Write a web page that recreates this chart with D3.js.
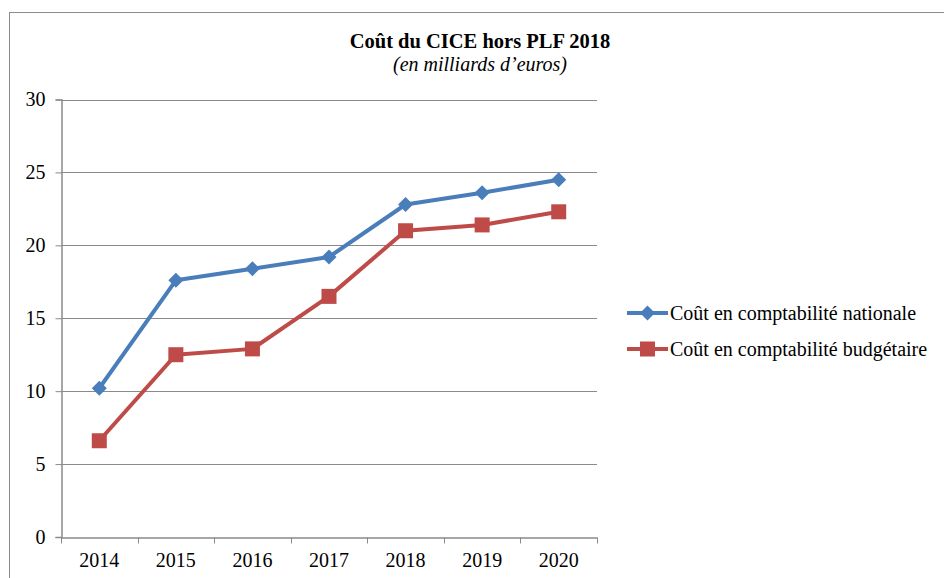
<!DOCTYPE html>
<html>
<head>
<meta charset="utf-8">
<script src="https://cdn.jsdelivr.net/npm/d3@7"></script>
<style>
  html, body { margin: 0; padding: 0; background: #fff; }
</style>
</head>
<body>
<div id="chart"></div>
<script>
const years = ['2014', '2015', '2016', '2017', '2018', '2019', '2020'];
const coutNational = [10.2, 17.6, 18.4, 19.2, 22.8, 23.6, 24.5];
const coutBudgetaire = [6.6, 12.5, 12.9, 16.5, 21.0, 21.4, 22.3];
const yTicks = [0, 5, 10, 15, 20, 25, 30];
const seriesNames = ['Coût en comptabilité nationale', 'Coût en comptabilité budgétaire'];

const FONT = "'Liberation Serif', 'Times New Roman', Times, 'DejaVu Serif', serif";
const width = 944, height = 578;
const plot = { left: 61, right: 597, top: 99.5, bottom: 537 };

const svg = d3.select('#chart').append('svg')
  .attr('width', width)
  .attr('height', height)
  .attr('font-family', FONT);

// chart frame
svg.append('rect')
  .attr('x', 9.5).attr('y', 12.5)
  .attr('width', 1000).attr('height', 600)
  .attr('fill', 'none')
  .attr('stroke', '#8c8c8c')
  .attr('stroke-width', 1);

const x = d3.scaleBand().domain(years).range([plot.left, plot.right]);
const y = d3.scaleLinear().domain([0, 30]).range([plot.bottom, plot.top]);

// gridlines
svg.append('g')
  .selectAll('line')
  .data(yTicks.filter(t => t > 0))
  .enter()
  .append('line')
  .attr('x1', plot.left).attr('x2', plot.right)
  .attr('y1', d => Math.round(y(d)) + 0.5).attr('y2', d => Math.round(y(d)) + 0.5)
  .attr('stroke', '#8a8a8a').attr('stroke-width', 1);

// y axis
const yAxis = svg.append('g')
  .attr('transform', `translate(${plot.left + 0.5},0)`)
  .call(d3.axisLeft(y).tickValues(yTicks).tickSize(6).tickPadding(10))
  .attr('font-family', FONT).attr('font-size', 20);
yAxis.select('.domain').attr('stroke', '#8a8a8a').attr('stroke-width', 1.5);
yAxis.selectAll('.tick line').attr('stroke', '#8a8a8a');

// x axis
const xAxis = svg.append('g')
  .attr('transform', `translate(0,${plot.bottom + 0.5})`)
  .call(d3.axisBottom(x).tickSize(0).tickPadding(15))
  .attr('font-family', FONT).attr('font-size', 20);
xAxis.select('.domain').attr('stroke', '#8a8a8a').attr('stroke-width', 1.5);
// tick marks at category boundaries
xAxis.append('g')
  .selectAll('line')
  .data(years.map(yr => x(yr)).concat([x(years[years.length - 1]) + x.bandwidth()]))
  .enter()
  .append('line')
  .attr('x1', d => Math.round(d) + 0.5).attr('x2', d => Math.round(d) + 0.5)
  .attr('y1', 0).attr('y2', 6)
  .attr('stroke', '#8a8a8a');

const cx = yr => x(yr) + x.bandwidth() / 2;
const line = d3.line().x(d => cx(d.year)).y(d => y(d.value));

const series = [
  { name: seriesNames[0], values: coutNational, color: '#4a7ebb', marker: 'diamond' },
  { name: seriesNames[1], values: coutBudgetaire, color: '#be4b48', marker: 'square' }
];

const drawMarker = (g, type, color) => {
  if (type === 'diamond') {
    g.append('path').attr('d', 'M0,-7.5L7.5,0L0,7.5L-7.5,0Z').attr('fill', color);
  } else {
    g.append('rect').attr('x', -7.5).attr('y', -7.5).attr('width', 15).attr('height', 15).attr('fill', color);
  }
};

series.forEach(s => {
  const pts = years.map((yr, i) => ({ year: yr, value: s.values[i] }));
  svg.append('path')
    .datum(pts)
    .attr('fill', 'none')
    .attr('stroke', s.color)
    .attr('stroke-width', 4)
    .attr('stroke-linejoin', 'round')
    .attr('d', line);
  pts.forEach(p => {
    const g = svg.append('g').attr('transform', `translate(${cx(p.year)},${y(p.value)})`);
    drawMarker(g, s.marker, s.color);
  });
});

// legend
series.forEach((s, i) => {
  const ly = 313 + i * 36;
  svg.append('line')
    .attr('x1', 627).attr('x2', 668)
    .attr('y1', ly).attr('y2', ly)
    .attr('stroke', s.color).attr('stroke-width', 4);
  const g = svg.append('g').attr('transform', `translate(647.5,${ly})`);
  drawMarker(g, s.marker, s.color);
  svg.append('text')
    .attr('x', 670).attr('y', ly)
    .attr('dy', '0.33em')
    .attr('font-size', 20)
    .text(s.name);
});

// title
svg.append('text')
  .attr('x', 480).attr('y', 48)
  .attr('text-anchor', 'middle')
  .attr('font-size', 20.5)
  .attr('font-weight', 'bold')
  .text('Coût du CICE hors PLF 2018');
svg.append('text')
  .attr('x', 480).attr('y', 71)
  .attr('text-anchor', 'middle')
  .attr('font-size', 20)
  .attr('font-style', 'italic')
  .text('(en milliards d’euros)');
</script>
</body>
</html>
